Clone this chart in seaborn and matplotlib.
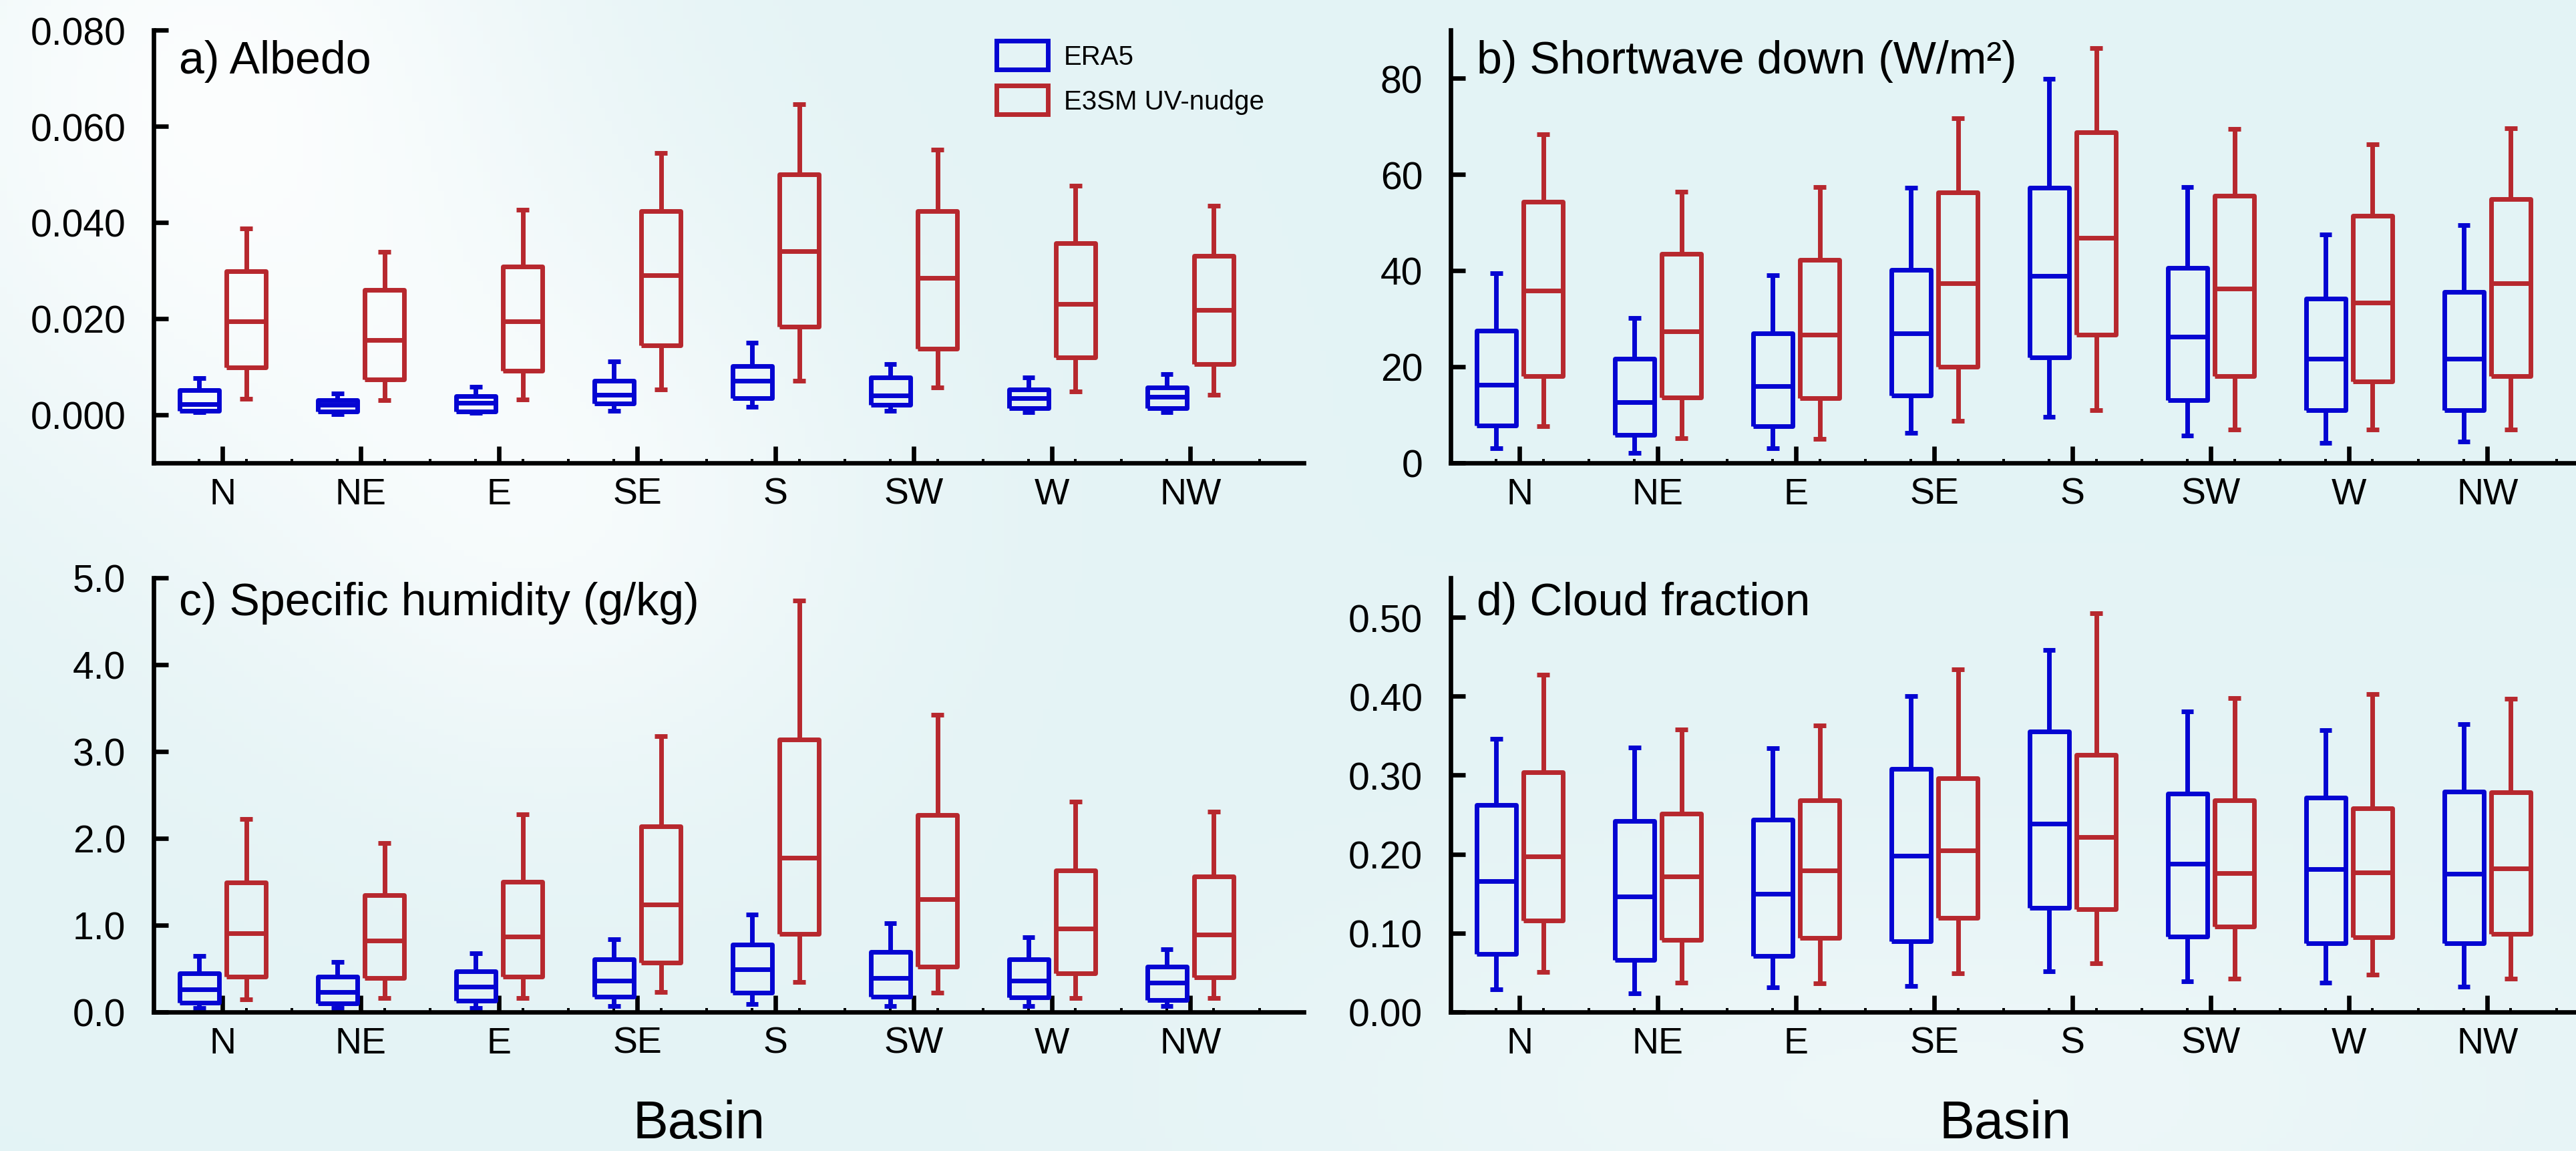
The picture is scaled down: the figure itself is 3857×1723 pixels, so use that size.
import numpy as np
import pandas as pd
import matplotlib
matplotlib.use("Agg")
import matplotlib.pyplot as plt
import seaborn as sns
from matplotlib.patches import Patch
from matplotlib.ticker import FixedLocator, FormatStrFormatter

# ---------------- data (five-number summaries: min, q1, median, q3, max) ----------------
basins = ["N", "NE", "E", "SE", "S", "SW", "W", "NW"]
sources = ["ERA5", "E3SM UV-nudge"]

albedo_era5 = [
    [0.0005, 0.0009, 0.0022, 0.0052, 0.0076],
    [0.0002, 0.0007, 0.0021, 0.0030, 0.0045],
    [0.0004, 0.0007, 0.0025, 0.0039, 0.0058],
    [0.0009, 0.0023, 0.0042, 0.0071, 0.0111],
    [0.0016, 0.0035, 0.0071, 0.0101, 0.0150],
    [0.0008, 0.0021, 0.0040, 0.0078, 0.0106],
    [0.0005, 0.0014, 0.0035, 0.0053, 0.0078],
    [0.0005, 0.0014, 0.0037, 0.0057, 0.0085],
]
albedo_e3sm = [
    [0.0033, 0.0099, 0.0195, 0.0299, 0.0388],
    [0.0030, 0.0074, 0.0156, 0.0260, 0.0339],
    [0.0032, 0.0091, 0.0195, 0.0308, 0.0427],
    [0.0053, 0.0145, 0.0290, 0.0423, 0.0545],
    [0.0071, 0.0183, 0.0340, 0.0500, 0.0646],
    [0.0057, 0.0138, 0.0285, 0.0423, 0.0552],
    [0.0048, 0.0119, 0.0231, 0.0357, 0.0476],
    [0.0041, 0.0106, 0.0218, 0.0331, 0.0435],
]
swdown_era5 = [
    [3.0, 7.8, 16.3, 27.5, 39.4],
    [2.1, 5.8, 12.6, 21.6, 30.1],
    [3.0, 7.7, 16.0, 27.0, 39.0],
    [6.2, 14.0, 27.0, 40.2, 57.2],
    [9.6, 22.0, 38.9, 57.2, 79.9],
    [5.7, 13.1, 26.2, 40.6, 57.3],
    [4.1, 11.0, 21.6, 34.2, 47.5],
    [4.4, 11.0, 21.6, 35.6, 49.5],
]
swdown_e3sm = [
    [7.6, 18.1, 35.8, 54.3, 68.3],
    [5.1, 13.6, 27.3, 43.5, 56.4],
    [5.0, 13.5, 26.7, 42.2, 57.4],
    [8.7, 20.0, 37.4, 56.2, 71.6],
    [11.0, 26.6, 46.8, 68.8, 86.3],
    [6.9, 18.1, 36.3, 55.5, 69.4],
    [7.0, 16.9, 33.3, 51.4, 66.3],
    [7.0, 18.1, 37.4, 54.8, 69.6],
]
humidity_era5 = [
    [0.05, 0.11, 0.26, 0.45, 0.65],
    [0.05, 0.10, 0.23, 0.41, 0.58],
    [0.05, 0.13, 0.29, 0.47, 0.68],
    [0.07, 0.18, 0.36, 0.61, 0.84],
    [0.09, 0.22, 0.49, 0.78, 1.12],
    [0.07, 0.18, 0.39, 0.69, 1.02],
    [0.07, 0.17, 0.36, 0.61, 0.86],
    [0.07, 0.14, 0.34, 0.52, 0.72],
]
humidity_e3sm = [
    [0.15, 0.41, 0.91, 1.49, 2.22],
    [0.16, 0.39, 0.82, 1.35, 1.95],
    [0.16, 0.41, 0.87, 1.50, 2.28],
    [0.23, 0.57, 1.24, 2.14, 3.18],
    [0.35, 0.90, 1.78, 3.14, 4.74],
    [0.22, 0.52, 1.30, 2.27, 3.42],
    [0.16, 0.45, 0.96, 1.63, 2.42],
    [0.16, 0.40, 0.89, 1.56, 2.31],
]
cloud_era5 = [
    [0.029, 0.074, 0.166, 0.262, 0.346],
    [0.024, 0.066, 0.146, 0.242, 0.335],
    [0.031, 0.071, 0.150, 0.244, 0.334],
    [0.033, 0.090, 0.198, 0.308, 0.400],
    [0.052, 0.132, 0.239, 0.355, 0.459],
    [0.039, 0.096, 0.188, 0.277, 0.381],
    [0.037, 0.087, 0.181, 0.272, 0.357],
    [0.032, 0.087, 0.175, 0.279, 0.365],
]
cloud_e3sm = [
    [0.051, 0.116, 0.197, 0.304, 0.427],
    [0.037, 0.091, 0.172, 0.251, 0.358],
    [0.036, 0.094, 0.179, 0.268, 0.363],
    [0.049, 0.119, 0.205, 0.296, 0.434],
    [0.062, 0.130, 0.222, 0.326, 0.505],
    [0.042, 0.108, 0.176, 0.268, 0.398],
    [0.047, 0.095, 0.177, 0.258, 0.403],
    [0.042, 0.099, 0.182, 0.278, 0.397],
]

titles = ["a) Albedo", "b) Shortwave down (W/m\u00b2)",
          "c) Specific humidity (g/kg)", "d) Cloud fraction"]
yticks_a = [0.000, 0.020, 0.040, 0.060, 0.080]
yticks_b = [0, 20, 40, 60, 80]
yticks_c = [0.0, 1.0, 2.0, 3.0, 4.0, 5.0]
yticks_d = [0.00, 0.10, 0.20, 0.30, 0.40, 0.50]

# ---------------- style ----------------
sns.set_theme(style="ticks")
plt.rcParams["font.family"] = ["Liberation Sans", "DejaVu Sans"]
plt.rcParams["text.color"] = "black"
plt.rcParams["xtick.color"] = "black"
plt.rcParams["ytick.color"] = "black"
plt.rcParams["axes.labelcolor"] = "black"

W, H, DPI = 3857, 1724, 100
BLUE, RED = "#0505D2", "#B7282E"
LW = 5.0
SP = 4.8
BG = "#E4F3F5"

fig = plt.figure(figsize=(W / DPI, H / DPI), dpi=DPI, facecolor=BG)

# soft background wash
bgax = fig.add_axes([0, 0, 1, 1], zorder=-10)
gx, gy = np.meshgrid(np.linspace(0, 1, 400), np.linspace(1, 0, 180))
white = (0.85 * np.exp(-(((gx - 0.08) / 0.14) ** 2 + ((gy - 0.92) / 0.35) ** 2))
         + 0.6 * np.exp(-(((gx - 0.22) / 0.12) ** 2 + ((gy - 0.55) / 0.25) ** 2))
         + 0.35 * np.exp(-(((gx - 0.75) / 0.25) ** 2 + ((gy - 0.05) / 0.2) ** 2)))
white = np.clip(white, 0, 1)[..., None]
base = np.array([0.894, 0.953, 0.961])
img = base * (1 - white) + np.array([1.0, 1.0, 1.0]) * white
bgax.imshow(img, aspect="auto", extent=[0, 1, 0, 1])
bgax.set_axis_off()


def frame(era5, e3sm):
    rows = []
    for src, arr in ((sources[0], era5), (sources[1], e3sm)):
        for b, five in zip(basins, arr):
            for v in five:
                rows.append((b, src, v))
    return pd.DataFrame(rows, columns=["Basin", "Source", "value"])


AXW = 1722 / W
AXH = 648 / H
positions = {
    "a": [230 / W, 1 - 694 / H, AXW, AXH],
    "b": [2172 / W, 1 - 694 / H, AXW, AXH],
    "c": [230 / W, 1 - 1516 / H, AXW, 650 / H],
    "d": [2172 / W, 1 - 1516 / H, AXW, 650 / H],
}
panels = [
    ("a", albedo_era5, albedo_e3sm, (-0.010, 0.080), yticks_a, "%.3f"),
    ("b", swdown_era5, swdown_e3sm, (0, 90), yticks_b, "%d"),
    ("c", humidity_era5, humidity_e3sm, (0, 5.0), yticks_c, "%.1f"),
    ("d", cloud_era5, cloud_e3sm, (0, 0.55), yticks_d, "%.2f"),
]
title_pos = {"a": (268, 110), "b": (2211, 110), "c": (268, 921), "d": (2211, 921)}

axes = {}
for (key, era5, e3sm, ylim, yt, fmt), title in zip(panels, titles):
    ax = fig.add_axes(positions[key])
    ax.set_facecolor("none")
    df = frame(era5, e3sm)
    sns.boxplot(data=df, x="Basin", y="value", hue="Source", order=basins,
                hue_order=sources, palette=[BLUE, RED], fill=False,
                whis=(0, 100), width=0.68, gap=0.16, linewidth=LW,
                legend=False, ax=ax, capwidths=0.09)
    for ln in ax.lines:
        ln.set_solid_capstyle("butt")
    ax.set_xlim(-0.5, 7.82)
    ax.set_ylim(*ylim)
    ax.set_xlabel("")
    ax.set_ylabel("")
    ax.yaxis.set_major_locator(FixedLocator(yt))
    ax.yaxis.set_major_formatter(FormatStrFormatter(fmt))
    minors = []
    for i in range(len(basins)):
        minors += [i - 0.17, i + 0.17, i + 0.5]
    ax.xaxis.set_minor_locator(FixedLocator(minors))
    sns.despine(ax=ax)
    for s in ("left", "bottom"):
        ax.spines[s].set_linewidth(SP)
        ax.spines[s].set_color("black")
    ax.tick_params(axis="y", which="major", direction="in", length=16,
                   width=SP, labelsize=41, pad=30, color="black",
                   labelcolor="black")
    ax.tick_params(axis="x", which="major", direction="in", length=18,
                   width=SP, labelsize=40, pad=15, color="black",
                   labelcolor="black")
    ax.tick_params(axis="x", which="minor", direction="in", length=4,
                   width=SP * 0.6, color="black")
    tx, ty = title_pos[key]
    fig.text(tx / W, 1 - ty / H, title, fontsize=49, va="baseline", ha="left",
             color="black")
    axes[key] = ax

# legend
handles = [Patch(facecolor="none", edgecolor=BLUE, linewidth=LW),
           Patch(facecolor="none", edgecolor=RED, linewidth=LW)]
leg = axes["a"].legend(handles, sources, loc="upper left",
                       bbox_to_anchor=(1492 / W, 1 - 62 / H),
                       bbox_transform=fig.transFigure, frameon=False, fontsize=29,
                       handlelength=1.9, handleheight=1.25, handletextpad=0.6,
                       labelspacing=0.6, borderpad=0, borderaxespad=0)
for t in leg.get_texts():
    t.set_color("black")

# shared x labels
fig.text(1046 / W, 1 - 1704 / H, "Basin", fontsize=57, ha="center",
         va="baseline", color="black")
fig.text(3002 / W, 1 - 1704 / H, "Basin", fontsize=57, ha="center",
         va="baseline", color="black")

fig.savefig("out.png", dpi=DPI, facecolor=fig.get_facecolor())
